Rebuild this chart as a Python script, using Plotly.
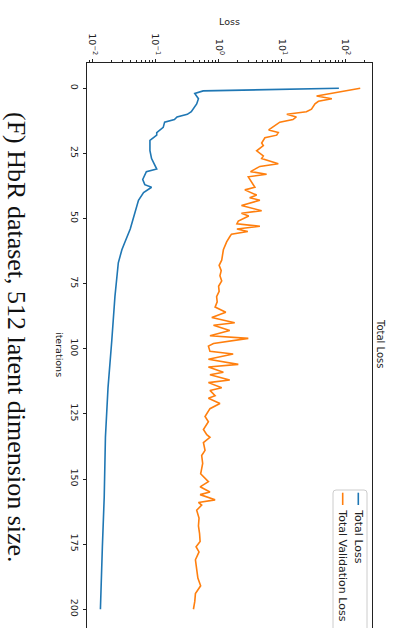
import plotly.graph_objects as go

# Training curve (sampled iterations and loss values)
train_iters = [0, 1, 2, 4, 6, 9, 10, 11, 12, 13, 15, 17, 18, 20, 24, 27, 31, 32,
               35, 37, 38, 40, 43, 46, 50, 54, 59, 62, 67, 80, 97, 115, 134, 157, 176, 200]
train_loss = [80, 0.57, 0.42, 0.48, 0.45, 0.37, 0.32, 0.22, 0.20, 0.14, 0.133, 0.105, 0.105,
              0.082, 0.082, 0.087, 0.105, 0.072, 0.063, 0.068, 0.087, 0.065, 0.054, 0.050,
              0.045, 0.040, 0.033, 0.0295, 0.0259, 0.0229, 0.0204, 0.0178, 0.0162, 0.0155,
              0.0145, 0.0135]

# Validation curve
val_iters = [0, 3, 4, 5, 6, 8, 9, 10, 11, 12,
             13, 16, 17, 18, 19, 21, 22, 24, 26, 27,
             29, 30, 32, 33, 34, 36, 38, 39, 41, 42,
             43, 45, 47, 48, 49, 51, 52, 53, 54, 55,
             56, 57, 59, 62, 64, 66, 68, 70, 72, 74,
             76, 78, 80, 82, 84, 86, 88, 90, 91, 93,
             95, 96, 98, 99, 101, 102, 104, 106, 107, 109,
             110, 112, 113, 115, 116, 118, 119, 121, 123, 126,
             128, 131, 133, 134, 136, 139, 141, 144, 146, 148,
             151, 153, 155, 156, 158, 159, 160, 162, 165, 168,
             171, 174, 176, 178, 181, 185, 188, 191, 194, 197,
             200]
val_loss = [174, 35.5, 62, 38, 33.5, 29.5, 24.5, 12, 17, 15,
            9.3, 6.2, 8.8, 8.3, 5.4, 4.8, 5.1, 4.0, 5.1, 4.8,
            8.8, 4.5, 3.2, 5.75, 2.95, 3.3, 3.75, 2.6, 4.0, 3.1,
            4.5, 2.3, 4.8, 2.3, 3.0, 2.05, 1.95, 4.5, 1.95, 2.9,
            1.6, 1.5, 1.34, 1.19, 1.15, 1.12, 1.02, 1.1, 1.05, 1.12,
            1.0, 1.02, 0.93, 0.95, 0.88, 1.3, 0.78, 1.8, 0.83, 1.5,
            0.73, 2.95, 0.83, 0.69, 0.73, 1.7, 0.69, 2.05, 0.69, 1.19,
            0.73, 1.5, 0.69, 1.12, 0.73, 0.88, 0.69, 1.05, 0.73, 0.61,
            0.69, 0.575, 0.65, 0.73, 0.575, 0.61, 0.54, 0.56, 0.54, 0.52,
            0.69, 0.51, 0.73, 0.51, 0.88, 0.48, 0.54, 0.45, 0.49, 0.48,
            0.5, 0.51, 0.44, 0.49, 0.43, 0.45, 0.47, 0.52, 0.43, 0.42,
            0.40]

iter_ticks = [0, 25, 50, 75, 100, 125, 150, 175, 200]
loss_ticks = [0.01, 0.1, 1, 10, 100]
loss_tick_text = ["10<sup>\u22122</sup>", "10<sup>\u22121</sup>", "10<sup>0</sup>",
                  "10<sup>1</sup>", "10<sup>2</sup>"]

series_names = ["Total Loss", "Total Validation Loss"]
series_colors = ["#1f77b4", "#ff7f0e"]

W, H = 393, 628
ML, MR, MT, MB = 87, 21, 63, 0
PW, PH = W - ML - MR, H - MT - MB


def px(x):
    return (x - ML) / PW


def py(y):
    return (H - MB - y) / PH


FONT = "DejaVu Sans"
INK = "#222222"

fig = go.Figure()
# The plot is laid out turned a quarter turn: loss runs across, iterations run down.
fig.add_trace(go.Scatter(x=train_loss, y=train_iters, mode="lines", name=series_names[0],
                         line=dict(color=series_colors[0], width=1.6), showlegend=False))
fig.add_trace(go.Scatter(x=val_loss, y=val_iters, mode="lines", name=series_names[1],
                         line=dict(color=series_colors[1], width=1.6), showlegend=False))

minor_vals = [m * 10 ** k for k in range(-3, 3) for m in range(2, 10)]

fig.update_xaxes(type="log", range=[-2.082, 2.427], side="top",
                 tickmode="array", tickvals=loss_ticks, ticktext=loss_tick_text,
                 tickangle=90, ticks="outside", ticklen=3.5, tickwidth=0.8, tickcolor=INK,
                 minor=dict(tickmode="array", tickvals=minor_vals, ticks="outside",
                            ticklen=2, tickwidth=0.6, tickcolor=INK, showgrid=False),
                 showgrid=False, zeroline=False, showline=True, linecolor=INK, linewidth=1,
                 mirror=False, tickfont=dict(family=FONT, size=9.5, color=INK))
fig.update_yaxes(range=[207.2, -9.7], tickmode="array", tickvals=iter_ticks,
                 ticktext=[str(v) for v in iter_ticks], tickangle=90,
                 ticks="outside", ticklen=3.5, tickwidth=0.8, tickcolor=INK,
                 showgrid=False, zeroline=False, showline=True, linecolor=INK, linewidth=1,
                 mirror=True, tickfont=dict(family=FONT, size=9.5, color=INK))


def label(text, x, y, size, angle=0, family=FONT, color=INK, xa="center", ya="middle"):
    return dict(text=text, x=px(x), y=py(y), xref="paper", yref="paper",
                xanchor=xa, yanchor=ya, textangle=angle, showarrow=False,
                font=dict(family=family, size=size, color=color))


ann = [
    label("Loss", 229, 22, 9.5),
    label("iterations", 60, 354, 9.5, 90),
    label("Total Loss", 381, 343, 10, 90),
    label("(F) HbR dataset, 512 latent dimension size.", 17, 337, 26, 90,
          family="Liberation Serif", color="#111111"),
]

# Legend, drawn turned like the rest of the plot
shapes = []
bx0, bx1, by0, by1, r = 333, 367, 490, 660, 3
path = (f"M {px(bx0 + r)},{py(by0)} L {px(bx1 - r)},{py(by0)} "
        f"Q {px(bx1)},{py(by0)} {px(bx1)},{py(by0 + r)} L {px(bx1)},{py(by1)} "
        f"L {px(bx0)},{py(by1)} L {px(bx0)},{py(by0 + r)} Q {px(bx0)},{py(by0)} {px(bx0 + r)},{py(by0)} Z")
shapes.append(dict(type="path", path=path, xref="paper", yref="paper",
                   line=dict(color="#cccccc", width=1), fillcolor="rgba(255,255,255,0.8)"))
legend_x = [358.3, 342.7]
for name, col, lx in zip(series_names, series_colors, legend_x):
    shapes.append(dict(type="line", xref="paper", yref="paper", x0=px(lx), x1=px(lx),
                       y0=py(492.7), y1=py(505), line=dict(color=col, width=1.6)))
    ann.append(label(name, lx, 507, 11, 90, ya="top"))

fig.update_layout(width=W, height=H, margin=dict(l=ML, r=MR, t=MT, b=MB),
                  paper_bgcolor="white", plot_bgcolor="white", showlegend=False,
                  annotations=ann, shapes=shapes)

fig.write_html("out.html")
